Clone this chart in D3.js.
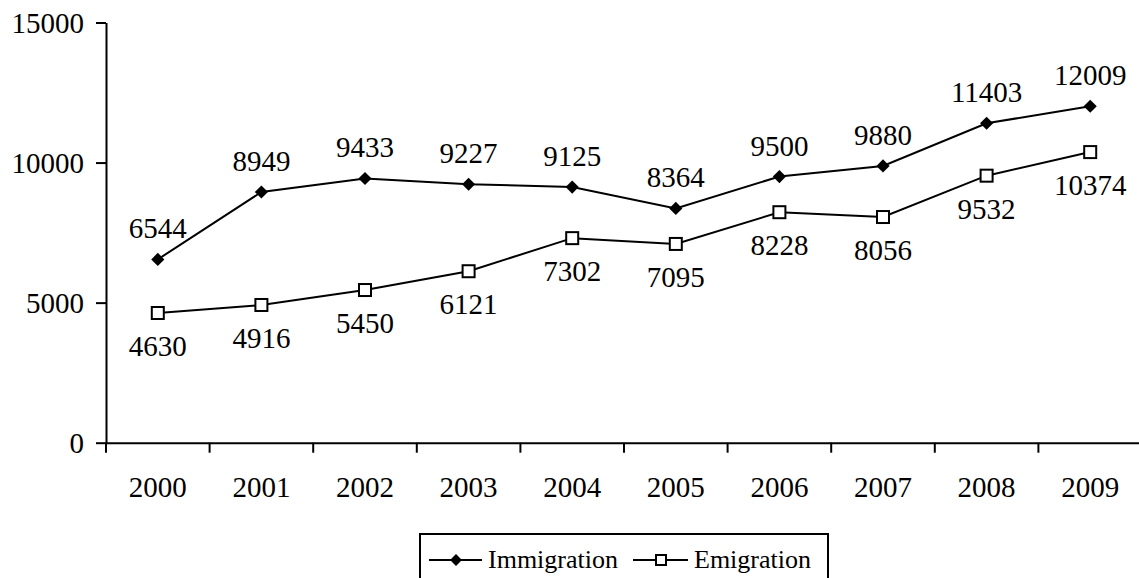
<!DOCTYPE html>
<meta charset="utf-8" />
<style>
  body {
    margin: 0;
    background: #fff;
  }
  svg text {
    font-family: "Liberation Serif", "Times New Roman", serif !important;
    fill: #000;
  }
  .axis path,
  .axis line {
    stroke: #000;
    stroke-width: 2px;
  }
</style>
<body>
  <div class="container"></div>

  <script src="https://d3js.org/d3.v7.min.js"></script>
  <script>
    // data
    const years = ["2000", "2001", "2002", "2003", "2004", "2005", "2006", "2007", "2008", "2009"];
    const immigration = [6544, 8949, 9433, 9227, 9125, 8364, 9500, 9880, 11403, 12009];
    const emigration = [4630, 4916, 5450, 6121, 7302, 7095, 8228, 8056, 9532, 10374];
    const yTicks = [0, 5000, 10000, 15000];

    const width = 1139,
      height = 578;

    const svg = d3
      .select(".container")
      .append("svg")
      .attr("width", width)
      .attr("height", height);

    // plot area runs past the right edge, like the source picture
    let x = d3.scaleBand().domain(years).range([106, 1142]).padding(0);
    let y = d3.scaleLinear().domain([0, 15000]).range([442.7, 22.5]);

    // y axis
    svg
      .append("g")
      .attr("class", "axis")
      .attr("transform", "translate(106,0)")
      .call(
        d3.axisLeft(y).tickValues(yTicks).tickFormat(d3.format("d")).tickSize(10).tickPadding(12).tickSizeOuter(0)
      )
      .call((g) => g.selectAll("text").style("font-size", "29px").attr("dy", "0.33em"));

    // x axis: labels at band centres, ticks at band edges
    const xAxis = svg
      .append("g")
      .attr("class", "axis")
      .attr("transform", "translate(0," + y(0) + ")")
      .call(d3.axisBottom(x).tickSize(0).tickPadding(34).tickSizeOuter(0));
    xAxis.selectAll("text").style("font-size", "29px");

    const edges = years.map((d) => x(d)).concat([x.range()[1]]);
    xAxis
      .selectAll(".edge")
      .data(edges)
      .enter()
      .append("line")
      .attr("class", "edge")
      .attr("x1", (d) => d)
      .attr("x2", (d) => d)
      .attr("y1", 0)
      .attr("y2", 10);

    const cx = (d, i) => x(years[i]) + x.bandwidth() / 2;

    const line = d3
      .line()
      .x((d, i) => cx(d, i))
      .y((d) => y(d));

    // lines
    [immigration, emigration].forEach(function (series) {
      svg
        .append("path")
        .datum(series)
        .attr("d", line)
        .attr("fill", "none")
        .attr("stroke", "#000")
        .attr("stroke-width", 2);
    });

    // markers
    const diamond = d3.symbol().type(d3.symbolDiamond2).size(110);
    svg
      .selectAll(".imm")
      .data(immigration)
      .enter()
      .append("path")
      .attr("d", diamond)
      .attr("transform", (d, i) => "translate(" + cx(d, i) + "," + y(d) + ")")
      .attr("fill", "#000");

    svg
      .selectAll(".emi")
      .data(emigration)
      .enter()
      .append("rect")
      .attr("x", (d, i) => cx(d, i) - 6)
      .attr("y", (d) => y(d) - 6)
      .attr("width", 12)
      .attr("height", 12)
      .attr("fill", "#fff")
      .attr("stroke", "#000")
      .attr("stroke-width", 2);

    // data labels
    svg
      .selectAll(".immLabel")
      .data(immigration)
      .enter()
      .append("text")
      .attr("x", (d, i) => cx(d, i))
      .attr("y", (d) => y(d) - 21)
      .attr("text-anchor", "middle")
      .style("font-size", "29px")
      .text((d) => d);

    svg
      .selectAll(".emiLabel")
      .data(emigration)
      .enter()
      .append("text")
      .attr("x", (d, i) => cx(d, i))
      .attr("y", (d) => y(d) + 43)
      .attr("text-anchor", "middle")
      .style("font-size", "29px")
      .text((d) => d);

    // legend
    const legend = svg.append("g");
    legend
      .append("rect")
      .attr("x", 420)
      .attr("y", 534)
      .attr("width", 408)
      .attr("height", 60)
      .attr("fill", "#fff")
      .attr("stroke", "#000")
      .attr("stroke-width", 2);

    legend
      .append("line")
      .attr("x1", 429)
      .attr("x2", 482)
      .attr("y1", 560)
      .attr("y2", 560)
      .attr("stroke", "#000")
      .attr("stroke-width", 2);
    legend
      .append("path")
      .attr("d", d3.symbol().type(d3.symbolDiamond2).size(90))
      .attr("transform", "translate(456,560)")
      .attr("fill", "#000");
    legend
      .append("text")
      .attr("x", 488)
      .attr("y", 568)
      .style("font-size", "26px")
      .text("Immigration");

    legend
      .append("line")
      .attr("x1", 633)
      .attr("x2", 688)
      .attr("y1", 560)
      .attr("y2", 560)
      .attr("stroke", "#000")
      .attr("stroke-width", 2);
    legend
      .append("rect")
      .attr("x", 656)
      .attr("y", 555)
      .attr("width", 10)
      .attr("height", 10)
      .attr("fill", "#fff")
      .attr("stroke", "#000")
      .attr("stroke-width", 2);
    legend
      .append("text")
      .attr("x", 694)
      .attr("y", 568)
      .style("font-size", "26px")
      .text("Emigration");
  </script>
</body>
